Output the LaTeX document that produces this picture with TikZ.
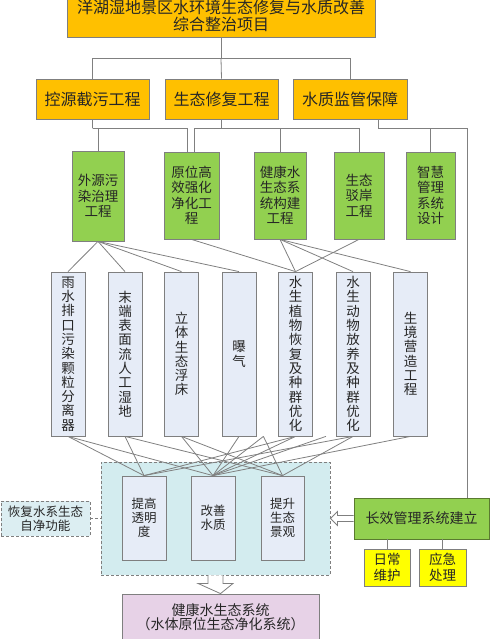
\documentclass[tikz,border=0pt]{standalone}
\usepackage{fontspec}
\setmainfont{Noto Sans CJK SC}
\usetikzlibrary{calc}
\definecolor{orng}{HTML}{FFC000}
\definecolor{grn}{HTML}{92D050}
\definecolor{lblue}{HTML}{E6ECF7}
\definecolor{cyanbg}{HTML}{D3ECEF}
\definecolor{cyanbg2}{HTML}{DCEEF2}
\definecolor{yel}{HTML}{FFFF00}
\definecolor{pink}{HTML}{E7D2E7}
\definecolor{bord}{HTML}{7F7F7F}
\definecolor{gbord}{HTML}{5A7A30}
\definecolor{lnc}{HTML}{808080}
\definecolor{txt}{HTML}{262626}
\begin{document}
\begin{tikzpicture}[x=1pt,y=-1pt,
  base/.style={draw=bord, line width=0.8pt, inner sep=0pt, align=center, text=txt},
  obox/.style={base, fill=orng, font=\fontsize{16}{17}\selectfont},
  gbox/.style={base, fill=grn, font=\fontsize{13.5}{15.5}\selectfont},
  vbox/.style={base, fill=lblue, minimum width=34pt, minimum height=164pt, font=\fontsize{13.5}{14.3}\selectfont},
  ebox/.style={base, fill=lblue, minimum height=84pt, font=\fontsize{12.5}{14}\selectfont},
  ybox/.style={base, fill=yel, minimum width=46pt, minimum height=37pt, font=\fontsize{13.5}{16}\selectfont},
  ln/.style={draw=lnc, line width=0.8pt},
  dsh/.style={draw=bord, line width=0.9pt, dash pattern=on 3pt off 2pt}
]
\useasboundingbox (0,0) rectangle (490,639);
\clip (0,0) rectangle (490,639);
% top
\node[obox, minimum width=308pt, minimum height=42pt] (top) at (221,16) {洋湖湿地景区水环境生态修复与水质改善\\综合整治项目};
% level 1
\node[obox, minimum width=113pt, minimum height=40pt] (la) at (92.5,99) {控源截污工程};
\node[obox, minimum width=113pt, minimum height=40pt] (lb) at (221.5,99) {生态修复工程};
\node[obox, minimum width=114pt, minimum height=40pt] (lc) at (350,99) {水质监管保障};
% level 2
\node[gbox, minimum width=52pt, minimum height=90pt] (ga) at (98,196) {外源污\\染治理\\工程};
\node[gbox, minimum width=55pt, minimum height=87pt] (gb) at (191.5,195.5) {原位高\\效强化\\净化工\\程};
\node[gbox, minimum width=52pt, minimum height=87pt] (gc) at (280,195.5) {健康水\\生态系\\统构建\\工程};
\node[gbox, minimum width=50pt, minimum height=87pt] (gd) at (359,195.5) {生态\\驳岸\\工程};
\node[gbox, minimum width=49pt, minimum height=87pt] (ge) at (430.5,195.5) {智慧\\管理\\系统\\设计};
% level 3
\node[vbox] (va) at (68,354) {雨\\水\\排\\口\\污\\染\\颗\\粒\\分\\离\\器};
\node[vbox] (vb) at (125,354) {末\\端\\表\\面\\流\\人\\工\\湿\\地};
\node[vbox] (vc) at (181.5,354) {立\\体\\生\\态\\浮\\床};
\node[vbox] (vd) at (239,354) {曝\\气};
\node[vbox] (ve) at (295.5,354) {水\\生\\植\\物\\恢\\复\\及\\种\\群\\优\\化};
\node[vbox] (vf) at (353,354) {水\\生\\动\\物\\放\\养\\及\\种\\群\\优\\化};
\node[vbox] (vg) at (410.5,354) {生\\境\\营\\造\\工\\程};
% dashed effect box
\node[dsh, fill=cyanbg, minimum width=229pt, minimum height=113pt, inner sep=0pt] (eff) at (215.5,518.5) {};
\node[ebox, minimum width=44pt] (ea) at (144,518) {提高\\透明\\度};
\node[ebox, minimum width=44pt] (eb) at (213,518) {改善\\水质};
\node[ebox, minimum width=43pt] (ec) at (282.5,518) {提升\\生态\\景观};
% left dashed
\node[dsh, fill=cyanbg2, minimum width=89pt, minimum height=35pt, inner sep=0pt, align=center, text=txt, font=\fontsize{12.5}{13.5}\selectfont] (self) at (45.5,518.5) {恢复水系生态\\自净功能};
% long-term management
\node[base, draw=gbord, fill=grn, minimum width=135pt, minimum height=41pt, font=\fontsize{14}{16}\selectfont] (mg) at (421.5,518.5) {长效管理系统建立};
\node[ybox] (ya) at (387,567.5) {日常\\维护};
\node[ybox, minimum width=47pt] (yb) at (442.5,567.5) {应急\\处理};
% bottom
\node[base, fill=pink, minimum width=197pt, minimum height=46pt, font=\fontsize{14}{14.5}\selectfont] (eco) at (220.5,617) {健康水生态系统\\（水体原位生态净化系统）};

% connectors top -> level1
\draw[ln] (top.south) -- ++(0,21) coordinate (tj);
\draw[ln] (la.north) |- (tj) -| (lc.north);
\draw[ln] (tj) -- (lb.north);
% level1 -> level2
\draw[ln] (la.south) -- ++(0,9) coordinate (ja);
\draw[ln] (ga.north) |- (ja) -| ([xshift=-4.5pt]gb.north);
\draw[ln] (lb.south) -- ++(0,9) coordinate (jb);
\draw[ln] ([xshift=2.5pt]gb.north) |- (jb) -| (gd.north);
\draw[ln] (jb -| gc.north) -- (gc.north);
\draw[ln] ([xshift=28pt]lc.south) -- ++(0,9) coordinate (jc);
\draw[ln] (jc) -| (ge.north);
\draw[ln] (jc) -| ([xshift=-22pt]mg.north east);
% level2 -> level3
\draw[ln] (ga.south) -- (va.north);
\draw[ln] (ga.south) -- (vb.north);
\draw[ln] (ga.south) -- (vc.north);
\draw[ln] (ga.south) -- (vd.north);
\draw[ln] (gb.south) -- (ve.north);
\draw[ln] (gc.south) -- (ve.north);
\draw[ln] (gc.south) -- (vf.north);
\draw[ln] (gc.south) -- (vg.north);
\draw[ln] (gd.south) -- (ve.north);
% level3 -> effects
\draw[ln] (va.south) -- (ea.north);
\draw[ln] (va.south) -- (eb.north);
\draw[ln] (vb.south) -- (ea.north);
\draw[ln] (vb.south) -- (ec.north);
\draw[ln] (vc.south) -- (eb.north);
\draw[ln] (vc.south) -- (ec.north);
\draw[ln] (vd.south) -- (eb.north);
\draw[ln] ([xshift=7pt]vd.south east) -- (eb.north);
\draw[ln] ([xshift=7pt]vd.south east) -- (ec.north);
\draw[ln] (ve.south) -- (ea.north);
\draw[ln] (ve.south) -- (eb.north);
\draw[ln] ([xshift=13pt]ve.south east) -- (eb.north);
\draw[ln] (vf.south) -- (ea.north);
\draw[ln] (vf.south) -- (ec.north);
\draw[ln] (vg.south) -- (eb.north);
% dashed link
\draw[dsh] (self.east) -- (eff.west);
% management to yellow
\draw[ln] (ya.north) -- (ya.north |- mg.south);
\draw[ln] (yb.north) -- (yb.north |- mg.south);
% hollow arrow left
\draw[draw=bord, fill=white, line width=0.8pt]
  (mg.west) ++(0,-3) -- ($(eff.east)+(7,-3)$) -- ($(eff.east)+(7,-7)$) -- (eff.east)
  -- ($(eff.east)+(7,7)$) -- ($(eff.east)+(7,3)$) -- ($(mg.west)+(0,3)$);
% hollow arrow down
\draw[draw=bord, fill=white, line width=0.8pt]
  ($(eff.south)+(-7.5,0)$) -- ($(eff.south)+(-7.5,8)$) -- ($(eff.south)+(-17.5,8)$) -- (eco.north)
  -- ($(eff.south)+(17.5,8)$) -- ($(eff.south)+(7.5,8)$) -- ($(eff.south)+(7.5,0)$);
\end{tikzpicture}
\end{document}
